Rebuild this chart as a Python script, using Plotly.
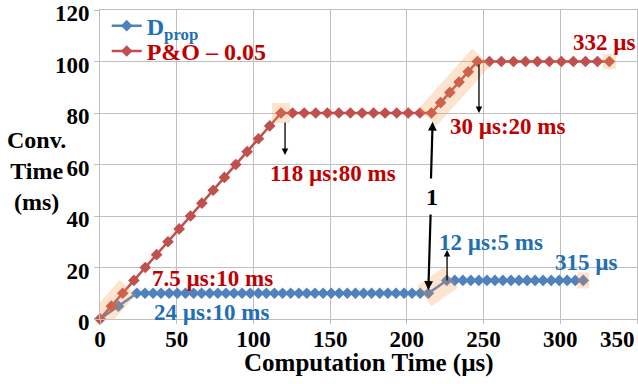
import plotly.graph_objects as go

# ---------------- data ----------------
dprop_x = [0, 12, 24, 29.3, 34.6, 39.8, 45.1, 50.4, 55.7, 61, 66.2, 71.5, 76.8, 82.1, 87.3,
           92.6, 97.9, 103.2, 108.4, 113.7, 119, 124.3, 129.6, 134.8, 140.1, 145.4, 150.7,
           155.9, 161.2, 166.5, 171.8, 177, 182.3, 187.6, 192.9, 198.2, 203.4, 208.7, 214,
           226, 231.2, 236.5, 241.7, 246.9, 252.2, 257.4, 262.6, 267.9, 273.1, 278.4, 283.6,
           288.8, 294.1, 299.3, 304.5, 309.8, 315]
dprop_y = [0, 5] + [10] * 37 + [15] * 18

po_x = [0, 7.4, 14.8, 22.1, 29.5, 36.9, 44.3, 51.6, 59, 66.4, 73.8, 81.1, 88.5, 95.9, 103.3,
        110.6, 118, 125.5, 133.1, 140.6, 148.2, 155.7, 163.2, 170.8, 178.3, 185.8, 193.4,
        200.9, 208.5, 216, 222, 228, 234, 240, 246, 253.8, 261.6, 269.5, 277.3, 285.1, 292.9,
        300.7, 308.5, 316.4, 324.2, 332]
po_y = [0, 5, 10, 15, 20, 25, 30, 35, 40, 45, 50, 55, 60, 65, 70, 75, 80] + [80] * 13 + \
       [84, 88, 92, 96, 100] + [100] * 11

x_ticks = [0, 50, 100, 150, 200, 250, 300, 350]
y_ticks = [0, 20, 40, 60, 80, 100, 120]

# ---------------- style ----------------
BLUE_LINE = "#4f81bd"
RED_LINE = "#c0504d"
BLUE_TXT = "#1f6fb5"
RED_TXT = "#c00000"
FONT = "Liberation Serif"
HL = "rgba(247,150,70,0.26)"

W, H = 638, 384
ML, MR, MT, MB = 100, 1, 10, 65
PW, PH = W - ML - MR, H - MT - MB
XR, YR = [0, 350], [0, 120]
X_PX = PW / (XR[1] - XR[0])
Y_PX = PH / (YR[1] - YR[0])

fig = go.Figure()
fig.add_trace(go.Scatter(
    x=dprop_x, y=dprop_y, mode="lines+markers",
    name='<span style="color:%s">D<sub>prop</sub></span>' % BLUE_TXT,
    line=dict(color=BLUE_LINE, width=2.5),
    marker=dict(symbol="diamond", size=9, color=BLUE_LINE),
    cliponaxis=False, legend="legend"))
fig.add_trace(go.Scatter(
    x=po_x, y=po_y, mode="lines+markers",
    name='<span style="color:%s">P&amp;O – 0.05</span>' % RED_TXT,
    line=dict(color=RED_LINE, width=2.5),
    marker=dict(symbol="diamond", size=9, color=RED_LINE),
    cliponaxis=False, legend="legend2"))


def band(p0, p1, pad, half):
    """Rotated highlight rectangle around segment p0-p1 (pad/half in pixels)."""
    ax, ay = p0[0] * X_PX, p0[1] * Y_PX
    bx, by = p1[0] * X_PX, p1[1] * Y_PX
    dx, dy = bx - ax, by - ay
    ln = (dx * dx + dy * dy) ** 0.5
    if ln == 0:
        dx, dy = 1.0, 0.0
    else:
        dx, dy = dx / ln, dy / ln
    nx, ny = -dy, dx
    pts = [
        (ax - dx * pad + nx * half, ay - dy * pad + ny * half),
        (bx + dx * pad + nx * half, by + dy * pad + ny * half),
        (bx + dx * pad - nx * half, by + dy * pad - ny * half),
        (ax - dx * pad - nx * half, ay - dy * pad - ny * half),
    ]
    path = "M " + " L ".join("%.3f,%.3f" % (px / X_PX, py / Y_PX) for px, py in pts) + " Z"
    return dict(type="path", path=path, xref="x", yref="y", fillcolor=HL,
                line=dict(width=0), layer="above")


shapes = [
    band((po_x[0], po_y[0]), (po_x[2], po_y[2]), 8, 11),
    band((po_x[16], po_y[16]), (po_x[16], po_y[16]), 9, 10),
    band((po_x[29], po_y[29]), (po_x[34], po_y[34]), 6, 12.5),
    band((po_x[-1], po_y[-1]), (po_x[-1], po_y[-1]), 6.5, 7.5),
    band((dprop_x[38], dprop_y[38]), (dprop_x[39], dprop_y[39]), 5, 12.5),
    band((dprop_x[-1], dprop_y[-1]), (dprop_x[-1], dprop_y[-1]), 6, 8),
]

tf = dict(family=FONT, size=23, color=RED_TXT, weight="bold")
bf = dict(family=FONT, size=23, color=BLUE_TXT, weight="bold")
kf = dict(family=FONT, size=24, color="black", weight="bold")

annotations = [
    dict(x=73.6, y=15.9, text="7.5 µs:10 ms", font=tf),
    dict(x=73.0, y=2.7, text="24 µs:10 ms", font=bf),
    dict(x=151.9, y=56.7, text="118 µs:80 ms", font=tf),
    dict(x=265.9, y=74.6, text="30 µs:20 ms", font=tf),
    dict(x=329.1, y=107.2, text="332 µs", font=tf),
    dict(x=254.8, y=29.9, text="12 µs:5 ms", font=bf),
    dict(x=317.4, y=22.1, text="315 µs", font=bf),
    dict(x=216.4, y=47.4, text="1", font=kf),
]
for a in annotations:
    a.update(xref="x", yref="y", showarrow=False, xanchor="center", yanchor="middle")

arrows = [
    ((120.6, 63.7), (120.6, 76.9), 1.3),
    ((247.0, 80.0), (247.0, 99.4), 1.3),
    ((226.2, 26.8), (226.2, 14.4), 1.3),
    ((216.8, 76.6), (215.7, 54.0), 2.2),
    ((214.0, 11.3), (215.5, 41.2), 2.2),
]
for (hx, hy), (tx, ty), w in arrows:
    annotations.append(dict(x=hx, y=hy, ax=tx, ay=ty, xref="x", yref="y", axref="x", ayref="y",
                            text="", showarrow=True, arrowhead=2, arrowsize=1 if w < 2 else 0.8,
                            arrowwidth=w, arrowcolor="black"))

# axis titles and the last x tick label (shifted inside the picture like the reference)
annotations.append(dict(x=1.0, y=-0.065, xref="paper", yref="paper", text="350",
                        showarrow=False, xanchor="right", yanchor="middle",
                        font=dict(family=FONT, size=23, color="black", weight="bold")))
annotations.append(dict(x=0.5, y=-0.141, xref="paper", yref="paper",
                        text="Computation Time (µs)", showarrow=False,
                        xanchor="center", yanchor="middle",
                        font=dict(family=FONT, size=25, color="black", weight="bold")))
annotations.append(dict(x=-0.118, y=0.48, xref="paper", yref="paper",
                        text="Conv.<br>Time<br>(ms)", showarrow=False, align="center",
                        xanchor="center", yanchor="middle", font=kf))

leg_common = dict(xanchor="left", yanchor="middle", bgcolor="rgba(0,0,0,0)",
                  font=dict(family=FONT, size=24, weight="bold"), itemwidth=30)

fig.update_layout(
    width=W, height=H, margin=dict(l=ML, r=MR, t=MT, b=MB, autoexpand=False),
    paper_bgcolor="white", plot_bgcolor="white",
    showlegend=True,
    legend=dict(x=0.0125, y=0.948, **leg_common),
    legend2=dict(x=0.0125, y=0.866, **leg_common),
    shapes=shapes, annotations=annotations,
    xaxis=dict(range=XR, tickvals=x_ticks,
               ticktext=[str(v) if v != 350 else "" for v in x_ticks],
               showgrid=True, gridcolor="#bfbfbf", gridwidth=1,
               showline=True, linecolor="#bfbfbf", mirror=True, zeroline=False,
               ticks="outside", ticklen=4, tickcolor="#bfbfbf", ticklabelstandoff=-5,
               tickfont=dict(family=FONT, size=23, color="black", weight="bold")),
    yaxis=dict(range=YR, tickvals=y_ticks, ticklabeloverflow="allow", ticklabelshift=3,
               showgrid=True, gridcolor="#bfbfbf", gridwidth=1,
               showline=True, linecolor="#bfbfbf", mirror=True, zeroline=False,
               ticks="outside", ticklen=5, tickcolor="#bfbfbf",
               tickfont=dict(family=FONT, size=23, color="black", weight="bold")),
)

fig.write_html("out.html")
